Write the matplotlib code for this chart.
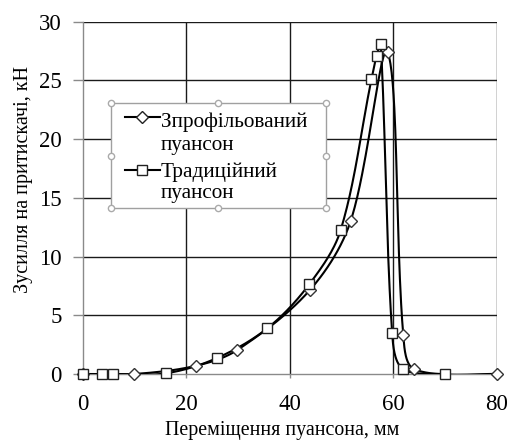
import numpy as np
import matplotlib
matplotlib.use("Agg")
import matplotlib.pyplot as plt
from matplotlib.lines import Line2D
from matplotlib.patches import Rectangle

plt.rcParams['font.family'] = ['Liberation Serif', 'DejaVu Serif']

# Data
x_prof = [0, 10, 21.9, 29.9, 43.9, 51.8, 58.9, 61.95, 64.1, 80]
y_prof = [0, 0, 0.7, 2.05, 7.15, 13.05, 27.4, 3.3, 0.4, 0]
x_trad = [0, 3.7, 5.8, 16, 25.9, 35.7, 43.8, 49.85, 55.8, 56.8, 57.6, 59.8, 61.8, 70]
y_trad = [0, 0, 0, 0.05, 1.35, 3.9, 7.65, 12.25, 25.1, 27.1, 28.1, 3.45, 0.45, 0]
label_prof = ["Зпрофільований", "пуансон"]
label_trad = ["Традиційний", "пуансон"]
xticks = [0, 20, 40, 60, 80]
yticks = [0, 5, 10, 15, 20, 25, 30]

W, H = 510.0, 441.0
L, R, T, B = 82.7, 496.7, 21.7, 374.0
XMIN, XMAX, YMIN, YMAX = 0, 80, 0, 30
SX = (R - L) / (XMAX - XMIN)
SY = (B - T) / (YMAX - YMIN)


def smooth(xs, ys, n=40):
    # Excel-like smoothed line: cubic Bezier with chord-weighted tangents (screen space)
    p = np.column_stack([np.array(xs, float) * SX, np.array(ys, float) * SY])
    m = len(p)
    out = [p[0]]
    d = np.linalg.norm(np.diff(p, axis=0), axis=1)
    for i in range(m - 1):
        p1, p2 = p[i], p[i + 1]
        if i > 0:
            p0 = p[i - 1]
            f1 = d[i] / (d[i - 1] + d[i]) / 3.0
        else:
            p0, f1 = p1, 1 / 6.0
        if i + 2 < m:
            p3 = p[i + 2]
            f2 = d[i] / (d[i] + d[i + 1]) / 3.0
        else:
            p3, f2 = p2, 1 / 6.0
        c1 = p1 + (p2 - p0) * f1
        c2 = p2 - (p3 - p1) * f2
        t = np.linspace(0, 1, n)[1:, None]
        seg = ((1 - t) ** 3) * p1 + 3 * ((1 - t) ** 2) * t * c1 + 3 * (1 - t) * t ** 2 * c2 + t ** 3 * p2
        out.extend(seg)
    out = np.array(out)
    return out[:, 0] / SX, out[:, 1] / SY


fig = plt.figure(figsize=(5.10, 4.41), dpi=100)
ax = fig.add_axes([L / W, 1 - B / H, (R - L) / W, (B - T) / H])

ax.set_xlim(XMIN, XMAX)
ax.set_ylim(YMIN, YMAX)
ax.set_xticks(xticks)
ax.set_yticks(yticks)
ax.grid(True, color='#1a1a1a', linewidth=1.0)
ax.set_axisbelow(True)
ax.xaxis.get_gridlines()[0].set_visible(False)
ax.yaxis.get_gridlines()[0].set_visible(False)
for s in ['top', 'right']:
    ax.spines[s].set_visible(False)
for s in ['left', 'bottom']:
    ax.spines[s].set_color('#8a8a8a')
    ax.spines[s].set_linewidth(1.0)
ax.tick_params(axis='both', labelsize=16.5, width=1.0, color='#8a8a8a')
ax.tick_params(axis='y', length=7, pad=8)
ax.tick_params(axis='x', length=3, pad=11.5)

xs, ys = smooth(x_prof, y_prof)
ax.plot(xs, ys, color='black', linewidth=1.5, zorder=3)
ax.plot(x_prof, y_prof, linestyle='none', marker='D', markersize=6,
        markerfacecolor='white', markeredgecolor='#333333', markeredgewidth=1.0, zorder=4, clip_on=False)

xs, ys = smooth(x_trad, y_trad)
ax.plot(xs, ys, color='black', linewidth=1.5, zorder=3)
ax.plot(x_trad, y_trad, linestyle='none', marker='s', markersize=7.2,
        markerfacecolor='white', markeredgecolor='#222222', markeredgewidth=1.0, zorder=5, clip_on=False)

# Axis titles
fig.text(282.3 / W, 1 - 435.0 / H, "Переміщення пуансона, мм", fontsize=14.3,
         ha='center', va='baseline')
fig.text(28.0 / W, 1 - 179.5 / H, "Зусилля на притискачі, кН", fontsize=14.5,
         ha='center', va='baseline', rotation=90, rotation_mode='anchor')

# Legend (drawn manually)
lx0, ly0, lx1, ly1 = 110.7, 103.3, 325.7, 208.3
fig.add_artist(Rectangle((lx0 / W, 1 - ly1 / H), (lx1 - lx0) / W, (ly1 - ly0) / H,
                         transform=fig.transFigure, facecolor='white', edgecolor='#a0a0a0',
                         linewidth=1.0, zorder=15))
hx0, hx1, hmx = 124.7, 159.7, 141.8
for ylin, mk, ms, lab, bases in [(116.7, 'D', 6, label_prof, (127.3, 150.0)),
                                 (170.0, 's', 7.2, label_trad, (177.3, 198.3))]:
    fig.add_artist(Line2D([hx0 / W, hx1 / W], [1 - ylin / H] * 2, transform=fig.transFigure,
                          color='black', linewidth=1.5, zorder=16))
    fig.add_artist(Line2D([hmx / W], [1 - ylin / H], transform=fig.transFigure, linestyle='none',
                          marker=mk, markersize=ms, markerfacecolor='white',
                          markeredgecolor='#222222', markeredgewidth=1.0, zorder=17))
    for txt, yb in zip(lab, bases):
        fig.text(161.0 / W, 1 - yb / H, txt, fontsize=15.3, ha='left', va='baseline', zorder=18)

# selection handles on legend frame
hx = [lx0, (lx0 + lx1) / 2, lx1, lx0, lx1, lx0, (lx0 + lx1) / 2, lx1]
hy = [ly0, ly0, ly0, (ly0 + ly1) / 2, (ly0 + ly1) / 2, ly1, ly1, ly1]
fig.add_artist(Line2D([v / W for v in hx], [1 - v / H for v in hy], transform=fig.transFigure,
                      linestyle='none', marker='o', markersize=4.5, markerfacecolor='white',
                      markeredgecolor='#aaaaaa', markeredgewidth=1.0, zorder=20))

fig.savefig("out.png", dpi=100)
